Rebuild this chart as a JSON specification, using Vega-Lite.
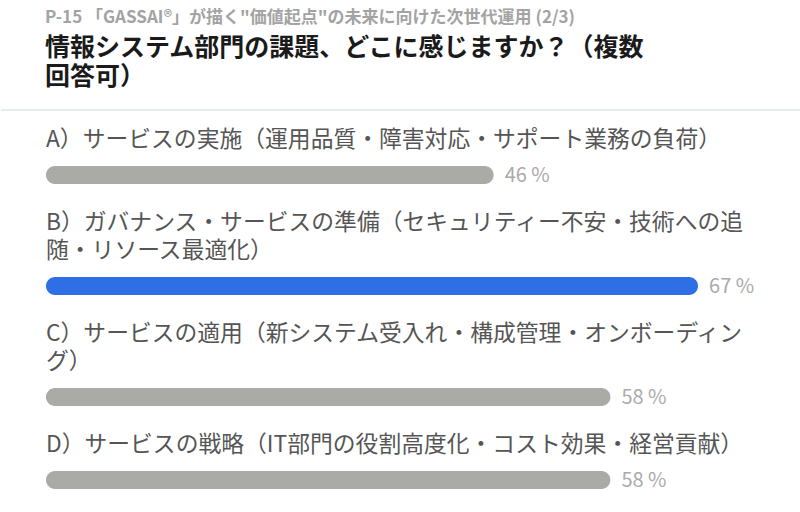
{
  "$schema": "https://vega.github.io/schema/vega-lite/v6.json",
  "description": "Poll result: 情報システム部門の課題 (複数回答可).",
  "background": "white",
  "padding": {"left": 0, "top": 9, "right": 0, "bottom": 20},
  "title": {
    "text": "P-15 「GASSAI®」が描く\"価値起点\"の未来に向けた次世代運用 (2/3)",
    "subtitle": ["情報システム部門の課題、どこに感じますか？（複数", "回答可）"],
    "anchor": "start",
    "dx": 45,
    "font": "Noto Sans CJK JP",
    "fontSize": 17,
    "fontWeight": "bold",
    "color": "#a3a3a3",
    "subtitleFont": "Noto Sans CJK JP",
    "subtitleFontSize": 25,
    "subtitleFontWeight": "bold",
    "subtitleColor": "#1a1a1a",
    "subtitleLineHeight": 29,
    "subtitlePadding": 9,
    "offset": 18
  },
  "datasets": {
    "poll": [
      {"key": "A", "pct": 46},
      {"key": "B", "pct": 67},
      {"key": "C", "pct": 58},
      {"key": "D", "pct": 58}
    ]
  },
  "data": {"name": "poll"},
  "transform": [
    {"joinaggregate": [{"op": "max", "field": "pct", "as": "top"}]},
    {"calculate": "format(datum.pct, 'd') + ' %'", "as": "pctLabel"}
  ],
  "spacing": 18,
  "vconcat": [
    {
      "width": 800,
      "height": 1,
      "data": {"values": [{}]},
      "transform": [],
      "mark": {"type": "rule", "color": "#e6edf1", "strokeWidth": 2},
      "encoding": {"y": {"value": 0}}
    },
    {
      "spacing": 26,
      "vconcat": [
        {
          "width": 800,
          "height": 18,
          "title": {"text": ["A）サービスの実施（運用品質・障害対応・サポート業務の負荷）"]},
          "transform": [{"filter": "datum.key == 'A'"}],
          "layer": [
            {"mark": {"type": "bar", "cornerRadius": 9}, "encoding": {"x": {"field": "pct", "type": "quantitative", "scale": {"domain": [-4.62, 77.58], "nice": false, "zero": false}, "axis": null}, "x2": {"datum": 0}, "y": {"value": 0}, "y2": {"value": 18}, "color": {"condition": {"test": "datum.pct == datum.top", "value": "#2f6fe6"}, "value": "#aaaaa7"}}},
            {"mark": {"type": "text", "align": "left", "baseline": "middle", "dx": 11, "fontSize": 20, "font": "Noto Sans CJK JP", "color": "#aaaaaa"}, "encoding": {"x": {"field": "pct", "type": "quantitative"}, "y": {"value": 10}, "text": {"field": "pctLabel"}}}
          ]
        },
        {
          "width": 800,
          "height": 18,
          "title": {"text": ["B）ガバナンス・サービスの準備（セキュリティー不安・技術への追", "随・リソース最適化）"]},
          "transform": [{"filter": "datum.key == 'B'"}],
          "layer": [
            {"mark": {"type": "bar", "cornerRadius": 9}, "encoding": {"x": {"field": "pct", "type": "quantitative", "scale": {"domain": [-4.62, 77.58], "nice": false, "zero": false}, "axis": null}, "x2": {"datum": 0}, "y": {"value": 0}, "y2": {"value": 18}, "color": {"condition": {"test": "datum.pct == datum.top", "value": "#2f6fe6"}, "value": "#aaaaa7"}}},
            {"mark": {"type": "text", "align": "left", "baseline": "middle", "dx": 11, "fontSize": 20, "font": "Noto Sans CJK JP", "color": "#aaaaaa"}, "encoding": {"x": {"field": "pct", "type": "quantitative"}, "y": {"value": 10}, "text": {"field": "pctLabel"}}}
          ]
        },
        {
          "width": 800,
          "height": 18,
          "title": {"text": ["C）サービスの適用（新システム受入れ・構成管理・オンボーディン", "グ）"]},
          "transform": [{"filter": "datum.key == 'C'"}],
          "layer": [
            {"mark": {"type": "bar", "cornerRadius": 9}, "encoding": {"x": {"field": "pct", "type": "quantitative", "scale": {"domain": [-4.62, 77.58], "nice": false, "zero": false}, "axis": null}, "x2": {"datum": 0}, "y": {"value": 0}, "y2": {"value": 18}, "color": {"condition": {"test": "datum.pct == datum.top", "value": "#2f6fe6"}, "value": "#aaaaa7"}}},
            {"mark": {"type": "text", "align": "left", "baseline": "middle", "dx": 11, "fontSize": 20, "font": "Noto Sans CJK JP", "color": "#aaaaaa"}, "encoding": {"x": {"field": "pct", "type": "quantitative"}, "y": {"value": 10}, "text": {"field": "pctLabel"}}}
          ]
        },
        {
          "width": 800,
          "height": 18,
          "title": {"text": ["D）サービスの戦略（IT部門の役割高度化・コスト効果・経営貢献）"]},
          "transform": [{"filter": "datum.key == 'D'"}],
          "layer": [
            {"mark": {"type": "bar", "cornerRadius": 9}, "encoding": {"x": {"field": "pct", "type": "quantitative", "scale": {"domain": [-4.62, 77.58], "nice": false, "zero": false}, "axis": null}, "x2": {"datum": 0}, "y": {"value": 0}, "y2": {"value": 18}, "color": {"condition": {"test": "datum.pct == datum.top", "value": "#2f6fe6"}, "value": "#aaaaa7"}}},
            {"mark": {"type": "text", "align": "left", "baseline": "middle", "dx": 11, "fontSize": 20, "font": "Noto Sans CJK JP", "color": "#aaaaaa"}, "encoding": {"x": {"field": "pct", "type": "quantitative"}, "y": {"value": 10}, "text": {"field": "pctLabel"}}}
          ]
        }
      ]
    }
  ],
  "config": {
    "view": {"stroke": null},
    "font": "Noto Sans CJK JP",
    "title": {
      "anchor": "start",
      "dx": 45,
      "font": "Noto Sans CJK JP",
      "fontSize": 22.8,
      "fontWeight": "normal",
      "color": "#555555",
      "lineHeight": 28,
      "offset": 14
    }
  }
}
